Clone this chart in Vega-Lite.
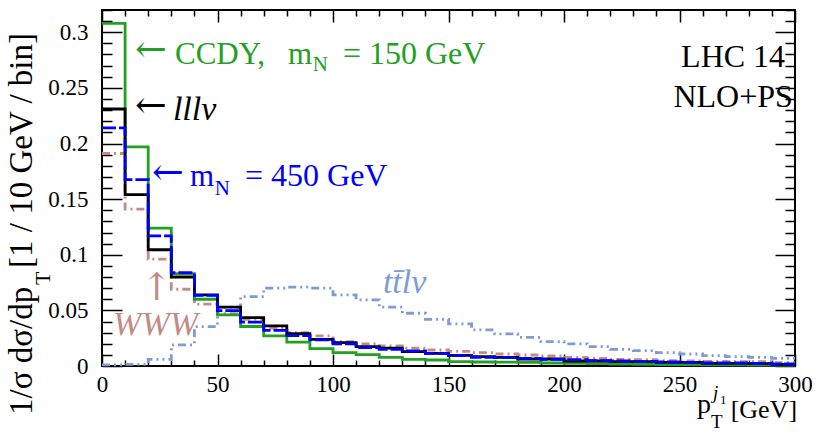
{
  "$schema": "https://vega.github.io/schema/vega-lite/v6.json",
  "width": 693,
  "height": 356,
  "autosize": {"type": "none"},
  "padding": {"left": 102, "top": 10, "right": 25, "bottom": 67},
  "background": "white",
  "config": {
    "font": "Liberation Serif",
    "view": {"stroke": "black", "strokeWidth": 2},
    "axis": {"tickColor": "black", "tickWidth": 1.5, "domain": false, "grid": false, "labelFont": "Liberation Serif", "labelColor": "black"}
  },
  "data": {"values": [{}]},
  "datasets": {
    "ccdy": [
      {"pt": 0, "val": 0.308}, {"pt": 10, "val": 0.197}, {"pt": 20, "val": 0.124}, {"pt": 30, "val": 0.083},
      {"pt": 40, "val": 0.060}, {"pt": 50, "val": 0.046}, {"pt": 60, "val": 0.0355}, {"pt": 70, "val": 0.027},
      {"pt": 80, "val": 0.0215}, {"pt": 90, "val": 0.0156}, {"pt": 100, "val": 0.012}, {"pt": 110, "val": 0.0102},
      {"pt": 120, "val": 0.0078}, {"pt": 130, "val": 0.006}, {"pt": 140, "val": 0.0054}, {"pt": 150, "val": 0.004},
      {"pt": 160, "val": 0.0036}, {"pt": 170, "val": 0.0035}, {"pt": 180, "val": 0.0033}, {"pt": 190, "val": 0.0027},
      {"pt": 200, "val": 0.0024}, {"pt": 210, "val": 0.0021}, {"pt": 220, "val": 0.0018}, {"pt": 230, "val": 0.0015},
      {"pt": 240, "val": 0.0013}, {"pt": 250, "val": 0.0012}, {"pt": 260, "val": 0.001}, {"pt": 270, "val": 0.001},
      {"pt": 280, "val": 0.0009}, {"pt": 290, "val": 0.0008}, {"pt": 300, "val": 0.0008}
    ],
    "lllv": [
      {"pt": 0, "val": 0.231}, {"pt": 10, "val": 0.154}, {"pt": 20, "val": 0.1045}, {"pt": 30, "val": 0.080},
      {"pt": 40, "val": 0.064}, {"pt": 50, "val": 0.053}, {"pt": 60, "val": 0.0435}, {"pt": 70, "val": 0.036},
      {"pt": 80, "val": 0.029}, {"pt": 90, "val": 0.024}, {"pt": 100, "val": 0.021}, {"pt": 110, "val": 0.0174},
      {"pt": 120, "val": 0.016}, {"pt": 130, "val": 0.013}, {"pt": 140, "val": 0.0114}, {"pt": 150, "val": 0.0096},
      {"pt": 160, "val": 0.0084}, {"pt": 170, "val": 0.0078}, {"pt": 180, "val": 0.0063}, {"pt": 190, "val": 0.0063},
      {"pt": 200, "val": 0.0045}, {"pt": 210, "val": 0.0045}, {"pt": 220, "val": 0.004}, {"pt": 230, "val": 0.004},
      {"pt": 240, "val": 0.0033}, {"pt": 250, "val": 0.0033}, {"pt": 260, "val": 0.0024}, {"pt": 270, "val": 0.0024},
      {"pt": 280, "val": 0.0021}, {"pt": 290, "val": 0.0015}, {"pt": 300, "val": 0.0015}
    ],
    "hn450": [
      {"pt": 0, "val": 0.214}, {"pt": 10, "val": 0.1676}, {"pt": 20, "val": 0.117}, {"pt": 30, "val": 0.084},
      {"pt": 40, "val": 0.0634}, {"pt": 50, "val": 0.0498}, {"pt": 60, "val": 0.0395}, {"pt": 70, "val": 0.032},
      {"pt": 80, "val": 0.0273}, {"pt": 90, "val": 0.0234}, {"pt": 100, "val": 0.0198}, {"pt": 110, "val": 0.0165},
      {"pt": 120, "val": 0.015}, {"pt": 130, "val": 0.0135}, {"pt": 140, "val": 0.0114}, {"pt": 150, "val": 0.0093},
      {"pt": 160, "val": 0.0078}, {"pt": 170, "val": 0.0075}, {"pt": 180, "val": 0.0069}, {"pt": 190, "val": 0.006},
      {"pt": 200, "val": 0.0057}, {"pt": 210, "val": 0.0048}, {"pt": 220, "val": 0.0045}, {"pt": 230, "val": 0.004},
      {"pt": 240, "val": 0.0036}, {"pt": 250, "val": 0.0033}, {"pt": 260, "val": 0.0027}, {"pt": 270, "val": 0.0027},
      {"pt": 280, "val": 0.0024}, {"pt": 290, "val": 0.0018}, {"pt": 300, "val": 0.0018}
    ],
    "www": [
      {"pt": 0, "val": 0.191}, {"pt": 10, "val": 0.141}, {"pt": 20, "val": 0.096}, {"pt": 30, "val": 0.069},
      {"pt": 40, "val": 0.0556}, {"pt": 50, "val": 0.047}, {"pt": 60, "val": 0.042}, {"pt": 70, "val": 0.034},
      {"pt": 80, "val": 0.030}, {"pt": 90, "val": 0.027}, {"pt": 100, "val": 0.0219}, {"pt": 110, "val": 0.0198},
      {"pt": 120, "val": 0.018}, {"pt": 130, "val": 0.016}, {"pt": 140, "val": 0.0144}, {"pt": 150, "val": 0.0132},
      {"pt": 160, "val": 0.012}, {"pt": 170, "val": 0.0108}, {"pt": 180, "val": 0.0099}, {"pt": 190, "val": 0.009},
      {"pt": 200, "val": 0.0078}, {"pt": 210, "val": 0.0069}, {"pt": 220, "val": 0.006}, {"pt": 230, "val": 0.0057},
      {"pt": 240, "val": 0.0048}, {"pt": 250, "val": 0.0045}, {"pt": 260, "val": 0.0042}, {"pt": 270, "val": 0.004},
      {"pt": 280, "val": 0.004}, {"pt": 290, "val": 0.003}, {"pt": 300, "val": 0.003}
    ],
    "ttlv": [
      {"pt": 0, "val": 0.001}, {"pt": 10, "val": 0.0015}, {"pt": 20, "val": 0.006}, {"pt": 30, "val": 0.019},
      {"pt": 40, "val": 0.0354}, {"pt": 50, "val": 0.053}, {"pt": 60, "val": 0.0624}, {"pt": 70, "val": 0.070},
      {"pt": 80, "val": 0.0709}, {"pt": 90, "val": 0.070}, {"pt": 100, "val": 0.064}, {"pt": 110, "val": 0.0595},
      {"pt": 120, "val": 0.0529}, {"pt": 130, "val": 0.0474}, {"pt": 140, "val": 0.042}, {"pt": 150, "val": 0.0378},
      {"pt": 160, "val": 0.0324}, {"pt": 170, "val": 0.0288}, {"pt": 180, "val": 0.0258}, {"pt": 190, "val": 0.0219},
      {"pt": 200, "val": 0.0198}, {"pt": 210, "val": 0.0174}, {"pt": 220, "val": 0.015}, {"pt": 230, "val": 0.0138},
      {"pt": 240, "val": 0.012}, {"pt": 250, "val": 0.0108}, {"pt": 260, "val": 0.0093}, {"pt": 270, "val": 0.0084},
      {"pt": 280, "val": 0.0078}, {"pt": 290, "val": 0.0069}, {"pt": 300, "val": 0.0069}
    ]
  },
  "layer": [
    {
      "data": {"name": "ttlv"},
      "mark": {"type": "line", "interpolate": "step-after", "color": "#7d9bd7", "strokeWidth": 2.8, "strokeDash": [8, 4, 2, 4, 2, 4]},
      "encoding": {
        "x": {"field": "pt", "type": "quantitative", "scale": {"domain": [0, 300], "nice": false}, "axis": null},
        "y": {"field": "val", "type": "quantitative", "scale": {"domain": [0, 0.32], "nice": false}, "axis": null}
      }
    },
    {
      "data": {"name": "www"},
      "mark": {"type": "line", "interpolate": "step-after", "color": "#c38b83", "strokeWidth": 2.8, "strokeDash": [8, 4, 2, 4]},
      "encoding": {
        "x": {"field": "pt", "type": "quantitative", "scale": {"domain": [0, 300], "nice": false}, "axis": null},
        "y": {"field": "val", "type": "quantitative", "scale": {"domain": [0, 0.32], "nice": false}, "axis": null}
      }
    },
    {
      "data": {"name": "ccdy"},
      "mark": {"type": "line", "interpolate": "step-after", "color": "#22a022", "strokeWidth": 2.8},
      "encoding": {
        "x": {"field": "pt", "type": "quantitative", "scale": {"domain": [0, 300], "nice": false}, "axis": null},
        "y": {"field": "val", "type": "quantitative", "scale": {"domain": [0, 0.32], "nice": false}, "axis": null}
      }
    },
    {
      "data": {"name": "lllv"},
      "mark": {"type": "line", "interpolate": "step-after", "color": "black", "strokeWidth": 2.8},
      "encoding": {
        "x": {"field": "pt", "type": "quantitative", "scale": {"domain": [0, 300], "nice": false}, "axis": null},
        "y": {"field": "val", "type": "quantitative", "scale": {"domain": [0, 0.32], "nice": false}, "axis": null}
      }
    },
    {
      "data": {"name": "hn450"},
      "mark": {"type": "line", "interpolate": "step-after", "color": "#0000ff", "strokeWidth": 2.8, "strokeDash": [14, 3]},
      "encoding": {
        "x": {"field": "pt", "type": "quantitative", "scale": {"domain": [0, 300], "nice": false}, "axis": null},
        "y": {"field": "val", "type": "quantitative", "scale": {"domain": [0, 0.32], "nice": false}, "axis": null}
      }
    },
    {
      "data": {"name": "ccdy"},
      "mark": {"type": "point", "opacity": 0},
      "encoding": {
        "x": {"field": "pt", "type": "quantitative", "scale": {"domain": [0, 300], "nice": false},
          "axis": {"orient": "bottom", "values": [0, 50, 100, 150, 200, 250, 300], "ticks": false, "domain": false, "grid": false, "labelPadding": 7, "labelFontSize": 23, "labelFlush": false, "labelOverlap": false, "title": null}}
      }
    },
    {
      "data": {"name": "ccdy"},
      "mark": {"type": "point", "opacity": 0},
      "encoding": {
        "x": {"field": "pt", "type": "quantitative", "scale": {"domain": [0, 300], "nice": false},
          "axis": {"orient": "bottom", "values": [0, 50, 100, 150, 200, 250, 300], "labels": false, "domain": false, "grid": false, "tickSize": -12, "title": null}}
      }
    },
    {
      "data": {"name": "ccdy"},
      "mark": {"type": "point", "opacity": 0},
      "encoding": {
        "x": {"field": "pt", "type": "quantitative", "scale": {"domain": [0, 300], "nice": false},
          "axis": {"orient": "bottom", "values": [10, 20, 30, 40, 60, 70, 80, 90, 110, 120, 130, 140, 160, 170, 180, 190, 210, 220, 230, 240, 260, 270, 280, 290], "labels": false, "domain": false, "grid": false, "tickSize": -6, "title": null}}
      }
    },
    {
      "data": {"name": "ccdy"},
      "mark": {"type": "point", "opacity": 0},
      "encoding": {
        "x": {"field": "pt", "type": "quantitative", "scale": {"domain": [0, 300], "nice": false},
          "axis": {"orient": "top", "values": [0, 50, 100, 150, 200, 250, 300], "labels": false, "domain": false, "grid": false, "tickSize": -12, "title": null}}
      }
    },
    {
      "data": {"name": "ccdy"},
      "mark": {"type": "point", "opacity": 0},
      "encoding": {
        "x": {"field": "pt", "type": "quantitative", "scale": {"domain": [0, 300], "nice": false},
          "axis": {"orient": "top", "values": [10, 20, 30, 40, 60, 70, 80, 90, 110, 120, 130, 140, 160, 170, 180, 190, 210, 220, 230, 240, 260, 270, 280, 290], "labels": false, "domain": false, "grid": false, "tickSize": -6, "title": null}}
      }
    },
    {
      "data": {"name": "ccdy"},
      "mark": {"type": "point", "opacity": 0},
      "encoding": {
        "y": {"field": "val", "type": "quantitative", "scale": {"domain": [0, 0.32], "nice": false},
          "axis": {"orient": "left", "values": [0, 0.05, 0.1, 0.15, 0.2, 0.25, 0.3], "format": "~g", "ticks": false, "domain": false, "grid": false, "labelPadding": 14, "labelFontSize": 23, "labelFlush": false, "labelOverlap": false, "title": null}}
      }
    },
    {
      "data": {"name": "ccdy"},
      "mark": {"type": "point", "opacity": 0},
      "encoding": {
        "y": {"field": "val", "type": "quantitative", "scale": {"domain": [0, 0.32], "nice": false},
          "axis": {"orient": "left", "values": [0, 0.05, 0.1, 0.15, 0.2, 0.25, 0.3], "labels": false, "domain": false, "grid": false, "tickSize": -20, "title": null}}
      }
    },
    {
      "data": {"name": "ccdy"},
      "mark": {"type": "point", "opacity": 0},
      "encoding": {
        "y": {"field": "val", "type": "quantitative", "scale": {"domain": [0, 0.32], "nice": false},
          "axis": {"orient": "left", "values": [0.01, 0.02, 0.03, 0.04, 0.06, 0.07, 0.08, 0.09, 0.11, 0.12, 0.13, 0.14, 0.16, 0.17, 0.18, 0.19, 0.21, 0.22, 0.23, 0.24, 0.26, 0.27, 0.28, 0.29, 0.31, 0.32], "labels": false, "domain": false, "grid": false, "tickSize": -10, "title": null}}
      }
    },
    {
      "data": {"name": "ccdy"},
      "mark": {"type": "point", "opacity": 0},
      "encoding": {
        "y": {"field": "val", "type": "quantitative", "scale": {"domain": [0, 0.32], "nice": false},
          "axis": {"orient": "right", "values": [0, 0.05, 0.1, 0.15, 0.2, 0.25, 0.3], "labels": false, "domain": false, "grid": false, "tickSize": -20, "title": null}}
      }
    },
    {
      "data": {"name": "ccdy"},
      "mark": {"type": "point", "opacity": 0},
      "encoding": {
        "y": {"field": "val", "type": "quantitative", "scale": {"domain": [0, 0.32], "nice": false},
          "axis": {"orient": "right", "values": [0.01, 0.02, 0.03, 0.04, 0.06, 0.07, 0.08, 0.09, 0.11, 0.12, 0.13, 0.14, 0.16, 0.17, 0.18, 0.19, 0.21, 0.22, 0.23, 0.24, 0.26, 0.27, 0.28, 0.29, 0.31, 0.32], "labels": false, "domain": false, "grid": false, "tickSize": -10, "title": null}}
      }
    },
    {
      "mark": {"type": "text", "align": "left", "baseline": "alphabetic", "font": "DejaVu Serif", "fontSize": 38, "color": "#22a022"},
      "encoding": {
        "x": {"datum": 14.3, "type": "quantitative", "scale": {"domain": [0, 300], "nice": false}, "axis": null},
        "y": {"datum": 0.2733, "type": "quantitative", "scale": {"domain": [0, 0.32], "nice": false}, "axis": null},
        "text": {"value": "←"}
      }
    },
    {
      "mark": {"type": "text", "align": "left", "baseline": "alphabetic", "font": "Liberation Serif", "fontSize": 31, "color": "#22a022"},
      "encoding": {
        "x": {"datum": 31.6, "type": "quantitative", "scale": {"domain": [0, 300], "nice": false}, "axis": null},
        "y": {"datum": 0.2715, "type": "quantitative", "scale": {"domain": [0, 0.32], "nice": false}, "axis": null},
        "text": {"value": "CCDY,"}
      }
    },
    {
      "mark": {"type": "text", "align": "left", "baseline": "alphabetic", "font": "Liberation Serif", "fontSize": 31, "color": "#22a022"},
      "encoding": {
        "x": {"datum": 80.5, "type": "quantitative", "scale": {"domain": [0, 300], "nice": false}, "axis": null},
        "y": {"datum": 0.2715, "type": "quantitative", "scale": {"domain": [0, 0.32], "nice": false}, "axis": null},
        "text": {"value": "m"}
      }
    },
    {
      "mark": {"type": "text", "align": "left", "baseline": "alphabetic", "font": "Liberation Serif", "fontSize": 21, "color": "#22a022"},
      "encoding": {
        "x": {"datum": 91.2, "type": "quantitative", "scale": {"domain": [0, 300], "nice": false}, "axis": null},
        "y": {"datum": 0.2652, "type": "quantitative", "scale": {"domain": [0, 0.32], "nice": false}, "axis": null},
        "text": {"value": "N"}
      }
    },
    {
      "mark": {"type": "text", "align": "left", "baseline": "alphabetic", "font": "Liberation Serif", "fontSize": 32, "color": "#22a022"},
      "encoding": {
        "x": {"datum": 104.3, "type": "quantitative", "scale": {"domain": [0, 300], "nice": false}, "axis": null},
        "y": {"datum": 0.2715, "type": "quantitative", "scale": {"domain": [0, 0.32], "nice": false}, "axis": null},
        "text": {"value": "= 150 GeV"}
      }
    },
    {
      "mark": {"type": "text", "align": "left", "baseline": "alphabetic", "font": "DejaVu Serif", "fontSize": 38, "color": "black"},
      "encoding": {
        "x": {"datum": 14.3, "type": "quantitative", "scale": {"domain": [0, 300], "nice": false}, "axis": null},
        "y": {"datum": 0.2229, "type": "quantitative", "scale": {"domain": [0, 0.32], "nice": false}, "axis": null},
        "text": {"value": "←"}
      }
    },
    {
      "mark": {"type": "text", "align": "left", "baseline": "alphabetic", "font": "Liberation Serif", "fontStyle": "italic", "fontSize": 34, "color": "black"},
      "encoding": {
        "x": {"datum": 30.7, "type": "quantitative", "scale": {"domain": [0, 300], "nice": false}, "axis": null},
        "y": {"datum": 0.2211, "type": "quantitative", "scale": {"domain": [0, 0.32], "nice": false}, "axis": null},
        "text": {"value": "lllν"}
      }
    },
    {
      "mark": {"type": "text", "align": "left", "baseline": "alphabetic", "font": "DejaVu Serif", "fontSize": 38, "color": "#0000ff"},
      "encoding": {
        "x": {"datum": 21.6, "type": "quantitative", "scale": {"domain": [0, 300], "nice": false}, "axis": null},
        "y": {"datum": 0.1627, "type": "quantitative", "scale": {"domain": [0, 0.32], "nice": false}, "axis": null},
        "text": {"value": "←"}
      }
    },
    {
      "mark": {"type": "text", "align": "left", "baseline": "alphabetic", "font": "Liberation Serif", "fontSize": 31, "color": "#0000ff"},
      "encoding": {
        "x": {"datum": 38.1, "type": "quantitative", "scale": {"domain": [0, 300], "nice": false}, "axis": null},
        "y": {"datum": 0.1618, "type": "quantitative", "scale": {"domain": [0, 0.32], "nice": false}, "axis": null},
        "text": {"value": "m"}
      }
    },
    {
      "mark": {"type": "text", "align": "left", "baseline": "alphabetic", "font": "Liberation Serif", "fontSize": 21, "color": "#0000ff"},
      "encoding": {
        "x": {"datum": 48.8, "type": "quantitative", "scale": {"domain": [0, 300], "nice": false}, "axis": null},
        "y": {"datum": 0.1537, "type": "quantitative", "scale": {"domain": [0, 0.32], "nice": false}, "axis": null},
        "text": {"value": "N"}
      }
    },
    {
      "mark": {"type": "text", "align": "left", "baseline": "alphabetic", "font": "Liberation Serif", "fontSize": 32, "color": "#0000ff"},
      "encoding": {
        "x": {"datum": 61.9, "type": "quantitative", "scale": {"domain": [0, 300], "nice": false}, "axis": null},
        "y": {"datum": 0.1618, "type": "quantitative", "scale": {"domain": [0, 0.32], "nice": false}, "axis": null},
        "text": {"value": "= 450 GeV"}
      }
    },
    {
      "mark": {"type": "text", "align": "center", "baseline": "alphabetic", "font": "Liberation Serif", "fontSize": 32, "color": "black"},
      "encoding": {
        "x": {"datum": 273.2, "type": "quantitative", "scale": {"domain": [0, 300], "nice": false}, "axis": null},
        "y": {"datum": 0.2688, "type": "quantitative", "scale": {"domain": [0, 0.32], "nice": false}, "axis": null},
        "text": {"value": "LHC 14"}
      }
    },
    {
      "mark": {"type": "text", "align": "center", "baseline": "alphabetic", "font": "Liberation Serif", "fontSize": 32, "color": "black"},
      "encoding": {
        "x": {"datum": 273.2, "type": "quantitative", "scale": {"domain": [0, 300], "nice": false}, "axis": null},
        "y": {"datum": 0.2328, "type": "quantitative", "scale": {"domain": [0, 0.32], "nice": false}, "axis": null},
        "text": {"value": "NLO+PS"}
      }
    },
    {
      "mark": {"type": "text", "align": "left", "baseline": "alphabetic", "font": "Liberation Serif", "fontStyle": "italic", "fontSize": 34, "color": "#7d9bd7"},
      "encoding": {
        "x": {"datum": 121.6, "type": "quantitative", "scale": {"domain": [0, 300], "nice": false}, "axis": null},
        "y": {"datum": 0.0656, "type": "quantitative", "scale": {"domain": [0, 0.32], "nice": false}, "axis": null},
        "text": {"value": "tt̄lν"}
      }
    },
    {
      "mark": {"type": "text", "align": "left", "baseline": "alphabetic", "font": "Liberation Serif", "fontStyle": "italic", "fontSize": 34, "color": "#c38b83"},
      "encoding": {
        "x": {"datum": 4.8, "type": "quantitative", "scale": {"domain": [0, 300], "nice": false}, "axis": null},
        "y": {"datum": 0.0279, "type": "quantitative", "scale": {"domain": [0, 0.32], "nice": false}, "axis": null},
        "text": {"value": "WWW"}
      }
    },
    {
      "mark": {"type": "text", "align": "center", "baseline": "alphabetic", "font": "DejaVu Serif", "fontSize": 38, "color": "#c38b83"},
      "encoding": {
        "x": {"datum": 23.8, "type": "quantitative", "scale": {"domain": [0, 300], "nice": false}, "axis": null},
        "y": {"datum": 0.0593, "type": "quantitative", "scale": {"domain": [0, 0.32], "nice": false}, "axis": null},
        "text": {"value": "↑"}
      }
    },
    {
      "mark": {"type": "text", "align": "left", "baseline": "middle", "angle": 270, "font": "Liberation Serif", "fontSize": 33, "color": "black"},
      "encoding": {
        "x": {"datum": -34.6, "type": "quantitative", "scale": {"domain": [0, 300], "nice": false}, "axis": null},
        "y": {"datum": -0.044, "type": "quantitative", "scale": {"domain": [0, 0.32], "nice": false}, "axis": null},
        "text": {"value": "1/σ dσ/dp"}
      }
    },
    {
      "mark": {"type": "text", "align": "left", "baseline": "middle", "angle": 270, "font": "Liberation Serif", "fontSize": 22, "color": "black"},
      "encoding": {
        "x": {"datum": -25.5, "type": "quantitative", "scale": {"domain": [0, 300], "nice": false}, "axis": null},
        "y": {"datum": 0.0728, "type": "quantitative", "scale": {"domain": [0, 0.32], "nice": false}, "axis": null},
        "text": {"value": "T"}
      }
    },
    {
      "mark": {"type": "text", "align": "left", "baseline": "middle", "angle": 270, "font": "Liberation Serif", "fontSize": 33, "color": "black"},
      "encoding": {
        "x": {"datum": -34.6, "type": "quantitative", "scale": {"domain": [0, 300], "nice": false}, "axis": null},
        "y": {"datum": 0.0881, "type": "quantitative", "scale": {"domain": [0, 0.32], "nice": false}, "axis": null},
        "text": {"value": "[1 / 10 GeV / bin]"}
      }
    },
    {
      "mark": {"type": "text", "align": "left", "baseline": "alphabetic", "font": "Liberation Serif", "fontSize": 28, "color": "black"},
      "encoding": {
        "x": {"datum": 257.6, "type": "quantitative", "scale": {"domain": [0, 300], "nice": false}, "axis": null},
        "y": {"datum": -0.0422, "type": "quantitative", "scale": {"domain": [0, 0.32], "nice": false}, "axis": null},
        "text": {"value": "p"}
      }
    },
    {
      "mark": {"type": "text", "align": "left", "baseline": "alphabetic", "font": "Liberation Serif", "fontSize": 19, "color": "black"},
      "encoding": {
        "x": {"datum": 263.6, "type": "quantitative", "scale": {"domain": [0, 300], "nice": false}, "axis": null},
        "y": {"datum": -0.0557, "type": "quantitative", "scale": {"domain": [0, 0.32], "nice": false}, "axis": null},
        "text": {"value": "T"}
      }
    },
    {
      "mark": {"type": "text", "align": "left", "baseline": "alphabetic", "font": "Liberation Serif", "fontStyle": "italic", "fontSize": 19, "color": "black"},
      "encoding": {
        "x": {"datum": 264.5, "type": "quantitative", "scale": {"domain": [0, 300], "nice": false}, "axis": null},
        "y": {"datum": -0.0297, "type": "quantitative", "scale": {"domain": [0, 0.32], "nice": false}, "axis": null},
        "text": {"value": "j"}
      }
    },
    {
      "mark": {"type": "text", "align": "left", "baseline": "alphabetic", "font": "Liberation Serif", "fontSize": 13, "color": "black"},
      "encoding": {
        "x": {"datum": 267.5, "type": "quantitative", "scale": {"domain": [0, 300], "nice": false}, "axis": null},
        "y": {"datum": -0.0342, "type": "quantitative", "scale": {"domain": [0, 0.32], "nice": false}, "axis": null},
        "text": {"value": "1"}
      }
    },
    {
      "mark": {"type": "text", "align": "right", "baseline": "alphabetic", "font": "Liberation Serif", "fontSize": 26, "color": "black"},
      "encoding": {
        "x": {"datum": 300.9, "type": "quantitative", "scale": {"domain": [0, 300], "nice": false}, "axis": null},
        "y": {"datum": -0.0467, "type": "quantitative", "scale": {"domain": [0, 0.32], "nice": false}, "axis": null},
        "text": {"value": "[GeV]"}
      }
    }
  ],
  "resolve": {"axis": {"x": "independent", "y": "independent"}}
}
